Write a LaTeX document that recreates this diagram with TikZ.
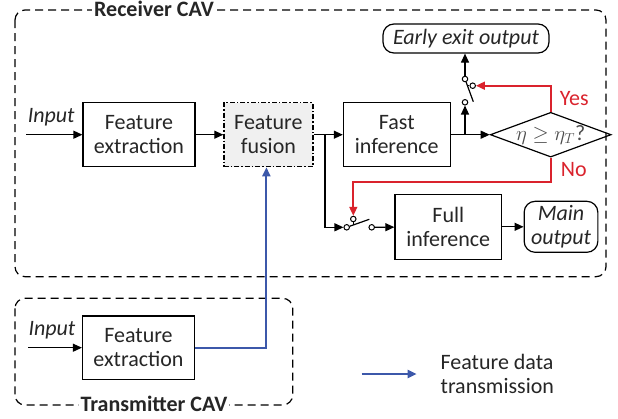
\documentclass[tikz,border=0pt]{standalone}
\usepackage{fontspec}
\setmainfont{Carlito}
\usetikzlibrary{arrows.meta, % 箭头的library
  shapes.geometric,          % diamond
  positioning}               % 相对地放置节点

\definecolor{nored}{RGB}{218,35,45}
\definecolor{txblue}{RGB}{60,88,170}
\newcommand{\diagfont}{\fontsize{22}{23.5}\selectfont}

\begin{document}
\begin{tikzpicture}[x=1pt,y=-1pt,>={Triangle[length=9pt,width=8pt]},line width=1.2pt,
  % 全局的字体, 坐标单位是像素大小的pt, y轴向下
  font=\diagfont,text=black!85,
  % 以下定义了几个主要的style:
  block/.style={draw,minimum width=112pt,minimum height=64pt,align=center,inner sep=1pt},
  {fusion block}/.style={block,fill=black!6,dash pattern=on 5pt off 2pt on 1.5pt off 2pt},
  {out block}/.style={draw,rounded corners=11pt,align=center,inner sep=1pt,font=\diagfont\itshape},
  decision/.style={draw,diamond,shape aspect=2.7,inner sep=0pt,minimum width=113pt,minimum height=42pt},
  terminal/.style={draw,circle,fill=white,inner sep=0pt,minimum size=5.5pt,line width=1pt},
  {cav box}/.style={draw,dash pattern=on 8pt off 5pt,rounded corners=10pt},
  {cav title}/.style={fill=white,inner sep=2pt,font=\diagfont\bfseries},
  {red line}/.style={draw=nored,->},
  {blue line}/.style={draw=txblue,->}]

  \useasboundingbox (0,0) rectangle (618,418);

  % 两个虚线框 (先画, 在最底下)
  \draw [cav box] (15,10) rectangle (606,276.7);
  \draw [cav box] (15,298.3) rectangle (292.7,405);

  \node [block] (fe1) at (139,134.7) {Feature\\extraction};
  \node [fusion block,minimum width=89pt] (fusion) [right=27.7pt of fe1] {Feature\\fusion};
  \node [block,minimum width=106.7pt] (fast) [right=29.3pt of fusion] {Fast\\inference};
  \node [decision,text=black!70] (cond) [right=39pt of fast] {$\eta \geq \eta_{T}$?};
  \node [out block,minimum width=166pt,minimum height=29pt] (eeo) at (466,38.5) {Early exit output};
  \node [block,minimum width=106.7pt,minimum height=65pt] (full) at (448.3,226.8) {Full\\inference};
  \node [out block,minimum width=73.7pt,minimum height=51pt] (mainout) [right=21.3pt of full] {Main\\output};
  \node [block,minimum height=63.3pt] (fe2) at (138.5,347.7) {Feature\\extraction};

  % 开关1 (early exit)
  \coordinate (sw1e) at (473.3,101.7);
  \coordinate (sw1s) at (467.4,85.7);
  \node [terminal] (sw1a) at (465,79) {};
  \node [terminal] (sw1b) at (465,102.3) {};
  \node [terminal] (sw1c) at (472.7,85.7) {};
  \draw (sw1a) -- (sw1e);
  \draw (sw1s) -- (sw1c);

  % 开关2 (full inference)
  \coordinate (sw2e) at (369.3,219.3);
  \coordinate (sw2s) at (353.3,225);
  \node [terminal] (sw2a) at (346.7,227.3) {};
  \node [terminal] (sw2b) at (371.7,227.3) {};
  \node [terminal] (sw2c) at (353.3,219) {};
  \draw (sw2a) -- (sw2e);
  \draw (sw2s) -- (sw2c);

  \coordinate (in1) at (26,134.7);
  \coordinate (in2) at (28,347.7);
  \coordinate (br1) at (325,134.7);
  \coordinate (br2) at (465,134.7);

  \draw [->] (in1) -- node [above=5pt,xshift=-3pt,font=\diagfont\itshape] {Input} (fe1);
  \draw [->] (fe1) -- (fusion);
  \draw [->] (fusion) -- (fast);
  \draw [->] (fast) -- (cond);
  \draw [->] (br1) |- (sw2a);
  \draw [->] (sw2b) -- (full);
  \draw [->] (full) -- (mainout);
  \draw [->] (br2) -- (sw1b);
  \draw [->] (sw1a) -- (sw1a |- eeo.south);

  \draw [red line,line width=1.7pt] (cond.north) |- node [pos=0.25,right,xshift=5pt,text=nored] {Yes} (sw1c);
  \draw [red line,line width=1.7pt] (cond.south) -- ++(0,24) node [midway,right,xshift=6pt,text=nored] {No} -| (sw2c);

  \draw [->] (in2) -- node [above=5pt,xshift=-3pt,font=\diagfont\itshape] {Input} (fe2);
  \draw [blue line,line width=2.1pt] (fe2) -| ([xshift=-2pt]fusion.south);

  % 图例
  \coordinate (lg1) at (361.7,374);
  \coordinate (lg2) at (416.7,374);
  \draw [blue line,line width=2.1pt] (lg1) -- (lg2);
  \node [align=left,anchor=west] (lgtext) at (436.7,374) {Feature data\\transmission};

  \node [cav title] (rxtitle) at (154,9) {Receiver CAV};
  \node [cav title] (txtitle) at (154,403.5) {Transmitter CAV};

\end{tikzpicture}
\end{document}
